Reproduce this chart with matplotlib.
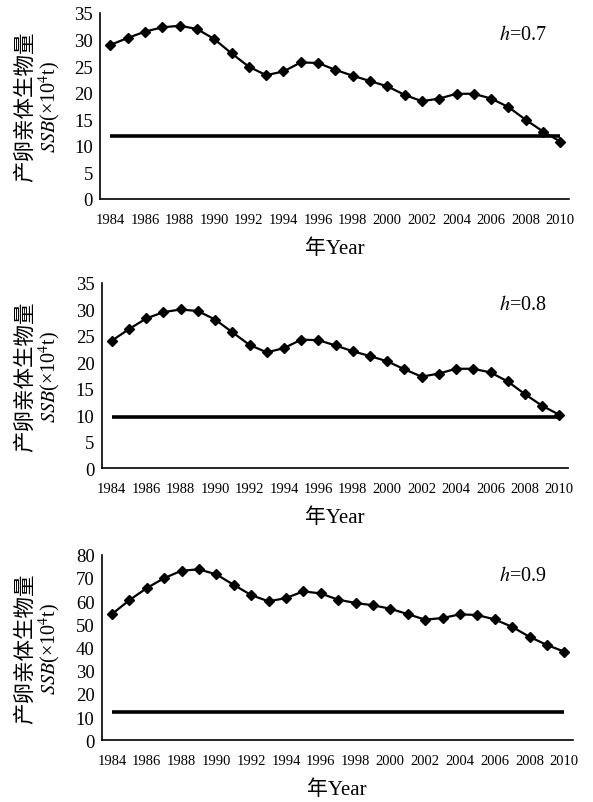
import numpy as np
import matplotlib.pyplot as plt

plt.rcParams['font.family'] = ['Liberation Serif', 'Noto Sans CJK SC']
plt.rcParams['mathtext.fontset'] = 'stix'

# 年份与三种陡度 h 下的产卵亲体生物量 (×10^4 t)
years = np.arange(1984, 2011)
ssb_07 = [29.0, 30.3, 31.5, 32.3, 32.6, 32.0, 30.1, 27.4, 24.9, 23.3, 24.0,
          25.7, 25.6, 24.3, 23.2, 22.2, 21.2, 19.6, 18.4, 18.9, 19.8, 19.8,
          18.9, 17.3, 14.9, 12.7, 10.8]
ssb_08 = [24.1, 26.3, 28.3, 29.5, 30.0, 29.7, 28.1, 25.7, 23.3, 21.9, 22.7,
          24.3, 24.2, 23.2, 22.1, 21.2, 20.2, 18.7, 17.3, 17.9, 18.8, 18.8,
          18.1, 16.4, 14.0, 11.8, 10.1]
ssb_09 = [54.4, 60.4, 65.6, 69.9, 73.1, 73.7, 71.5, 67.0, 62.6, 59.9, 61.3,
          64.2, 63.3, 60.6, 59.2, 58.2, 56.7, 54.4, 52.0, 52.7, 54.3, 54.0,
          52.1, 48.9, 44.6, 41.1, 38.2]
ssb_lim = [11.9, 9.6, 12.3]
h_labels = ['0.7', '0.8', '0.9']
y_max = [35, 35, 80]
y_step = [5, 5, 10]
tick_years = np.arange(1984, 2011, 2)

W, H = 593, 803
fig = plt.figure(figsize=(W / 100, H / 100), dpi=100)

# 各子图在像素中的位置: 左, 右, 上, 下
boxes = [(100, 569, 14, 200), (101.5, 568, 284, 469.3), (101.5, 573, 555.7, 741.3)]
series = [ssb_07, ssb_08, ssb_09]

for i in range(3):
    l, r, t, b = boxes[i]
    ax = fig.add_axes([l / W, 1 - b / H, (r - l) / W, (b - t) / H])
    ax.plot(years, series[i], color='black', lw=1.6, marker='D', ms=5.5,
            mec='black', mfc='black', zorder=3)
    ax.hlines(ssb_lim[i], years[0], years[-1], color='black', lw=2.6, zorder=2)

    ax.set_xlim(1983.4, 2010.5)
    ax.set_ylim(0, y_max[i])
    ax.set_yticks(np.arange(0, y_max[i] + 1, y_step[i]))
    ax.set_xticks(tick_years)
    ax.tick_params(axis='x', length=0, pad=10, labelsize=10.5)
    ax.tick_params(axis='y', length=0, pad=5, labelsize=13.5)
    for s in ['top', 'right']:
        ax.spines[s].set_visible(False)
    for s in ['left', 'bottom']:
        ax.spines[s].set_linewidth(1.2)

    ax.text((523 - l) / (r - l), 1 - 21 / (b - t),
            '$h$=' + h_labels[i], transform=ax.transAxes,
            ha='center', va='center', fontsize=14.5)

    yc = 1 - (t + b) / 2 / H
    fig.text(25 / W, yc, '产卵亲体生物量', rotation=90, ha='center', va='center',
             fontsize=15.5, family=['Noto Sans CJK SC', 'DejaVu Sans'])
    fig.text(50 / W, yc, r'$SSB$(×10$^4$t)', rotation=90, ha='center',
             va='center', fontsize=14.5)
    fig.text((l + r) / 2 / W, 1 - (b + 49) / H, '年Year', ha='center',
             va='center', fontsize=15)

fig.savefig('out.png', dpi=100)
